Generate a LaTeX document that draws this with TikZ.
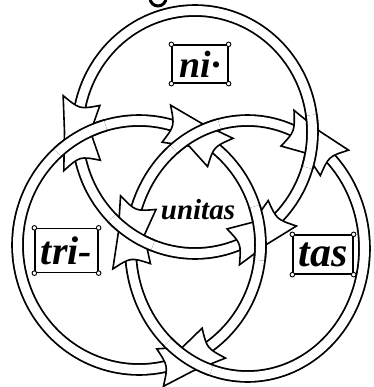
\documentclass[tikz,border=0pt]{standalone}
\usepackage{fontspec}
\setmainfont{Liberation Serif}
\newcommand\wf{19}
\newcommand\wn{13}
\newcommand\RingArc[6]{%
  \draw[bandout] plot[domain=#5:#6,samples=80,variable=\t] ({#1+#3*cos(\t)},{#2+#4*sin(\t)});%
  \draw[bandin] plot[domain=#5:#6,samples=80,variable=\t] ({#1+#3*cos(\t)},{#2+#4*sin(\t)});%
}
\newcommand\FullRing[4]{%
  \draw[bandout] plot[domain=0:360,samples=160,variable=\t] ({#1+#3*cos(\t)},{#2+#4*sin(\t)}) -- cycle;%
  \draw[bandin] plot[domain=0:360,samples=160,variable=\t] ({#1+#3*cos(\t)},{#2+#4*sin(\t)}) -- cycle;%
}
% cx cy rx ry phic phi1 phi2
\newcommand\BowTie[7]{%
  \filldraw[flare]
   ({#1+(#3+\wn)*cos(#5)},{#2+(#4+\wn)*sin(#5)}) --
   ({#1+(#3+\wf)*cos(#7)},{#2+(#4+\wf)*sin(#7)}) .. controls
   ({#1+#3*cos(#7-0.28*(#7-#5))},{#2+#4*sin(#7-0.28*(#7-#5))}) ..
   ({#1+(#3-\wf)*cos(#7)},{#2+(#4-\wf)*sin(#7)}) --
   ({#1+(#3-\wn)*cos(#5)},{#2+(#4-\wn)*sin(#5)}) --
   ({#1+(#3-\wf)*cos(#6)},{#2+(#4-\wf)*sin(#6)}) .. controls
   ({#1+#3*cos(#6+0.28*(#5-#6))},{#2+#4*sin(#6+0.28*(#5-#6))}) ..
   ({#1+(#3+\wf)*cos(#6)},{#2+(#4+\wf)*sin(#6)}) -- cycle;%
}
\begin{document}
\begin{tikzpicture}[x=1pt,y=-1pt,
  bandout/.style={line width=12.6pt,black},
  bandin/.style={line width=9pt,white},
  flare/.style={fill=white,draw=black,line width=1.6pt,line join=miter},
  lbox/.style={draw,line width=1.3pt,inner sep=0pt},
  corner/.style={fill=white,draw=black,line width=0.9pt}]
\useasboundingbox (0,0) rectangle (373,387);
\clip (0,0) rectangle (373,387);
% small loop at the top edge
\draw[line width=3pt] (158,-2) circle (8);
% three rings: top T, left L, right R
\FullRing{195}{132}{117.5}{121.5}
\FullRing{139}{245}{121.5}{124.5}
\FullRing{247.5}{248.5}{117}{128}
% crossing 1: T under L
\BowTie{195}{132}{117.5}{121.5}{180}{164}{195}
\RingArc{139}{245}{121.5}{124.5}{228}{254}
% crossing 2: L under R (top)
\BowTie{139}{245}{121.5}{124.5}{297.5}{283}{312}
\RingArc{247.5}{248.5}{117}{128}{231}{256}
% crossing 3: R under T (right)
\BowTie{247.5}{248.5}{117}{128}{303.7}{290}{318}
\RingArc{195}{132}{117.5}{121.5}{-8}{17}
% crossing 4: R under T (left)
\BowTie{247.5}{248.5}{117}{128}{186.5}{172}{201}
\RingArc{195}{132}{117.5}{121.5}{111}{135}
% crossing 5: T under L (right)
\BowTie{195}{132}{117.5}{121.5}{56.2}{42}{71}
\RingArc{139}{245}{121.5}{124.5}{342}{367}
% crossing 6: L under R (bottom)
\BowTie{139}{245}{121.5}{124.5}{66.3}{52}{80}
\RingArc{247.5}{248.5}{117}{128}{108}{133}
% labels
\node[lbox,minimum width=56pt,minimum height=38pt,font=\fontsize{38}{38}\selectfont\bfseries\itshape] (ni) at (200,64) {ni·};
\node[lbox,minimum width=63pt,minimum height=44pt,font=\fontsize{40}{40}\selectfont\bfseries\itshape] (tri) at (66.5,250.5) {tri-};
\node[lbox,minimum width=60pt,minimum height=39pt,font=\fontsize{42}{42}\selectfont\bfseries\itshape] (tas) at (323,254.5) {tas};
\node[font=\fontsize{29}{29}\selectfont\bfseries\itshape,inner sep=0pt] (unitas) at (198,210) {unitas};
\foreach \n in {ni,tri,tas}{
  \foreach \c in {north west,north east,south west,south east}{
    \filldraw[corner] (\n.\c) circle (2.3);
  }
}
\end{tikzpicture}
\end{document}
